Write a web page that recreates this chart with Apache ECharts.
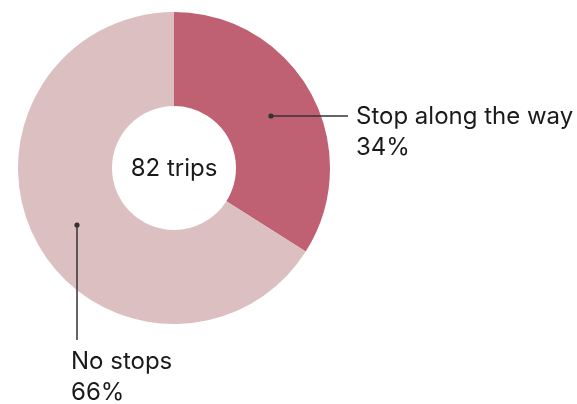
<!DOCTYPE html>
<html><head><meta charset="utf-8">
<script src="https://cdn.jsdelivr.net/npm/echarts@6/dist/echarts.min.js"></script>
<style>html,body{margin:0;padding:0;background:#fff}#c{width:577px;height:404px}</style>
</head><body><div id="c"></div>
<script>
const categories = ["Stop along the way", "No stops"];
const values = [34, 66];
const totalLabel = "82 trips";
const colors = ["#bf6172", "#dcbfc0"];

const FONT = "Inter";
const labelPos = [
  {x: 356, y: 132, line: [[271, 116], [348, 116]]},
  {x: 71, y: 377, line: [[77, 225], [77, 340]]}
];

const textStyle = (t, x, y) => ({type: 'text', x: x, y: y, z: 30,
  style: {text: t, font: '24px ' + FONT, lineHeight: 31, fill: '#1a1a1a', align: 'left', verticalAlign: 'middle'}});

const chart = echarts.init(document.getElementById('c'));
chart.setOption({
  animation: false,
  graphic: [
    {type: 'text', x: 174, y: 169, style: {text: totalLabel, font: '24px ' + FONT, fill: '#1a1a1a', align: 'center', verticalAlign: 'middle'}, z: 10},
    ...labelPos.map(p => ({type: 'polyline', shape: {points: p.line}, style: {stroke: '#333', lineWidth: 1.5}, z: 20})),
    ...labelPos.map(p => ({type: 'circle', shape: {cx: p.line[0][0], cy: p.line[0][1], r: 2.6}, style: {fill: '#333'}, z: 21})),
    ...labelPos.map((p, i) => textStyle(categories[i] + '\n' + values[i] + '%', p.x, p.y))
  ],
  series: [{
    type: 'pie',
    center: [174, 168],
    radius: [62, 156],
    startAngle: 90,
    clockwise: true,
    silent: true,
    label: {show: false},
    labelLine: {show: false},
    data: categories.map((c, i) => ({name: c, value: values[i], itemStyle: {color: colors[i]}}))
  }]
});
</script></body></html>
